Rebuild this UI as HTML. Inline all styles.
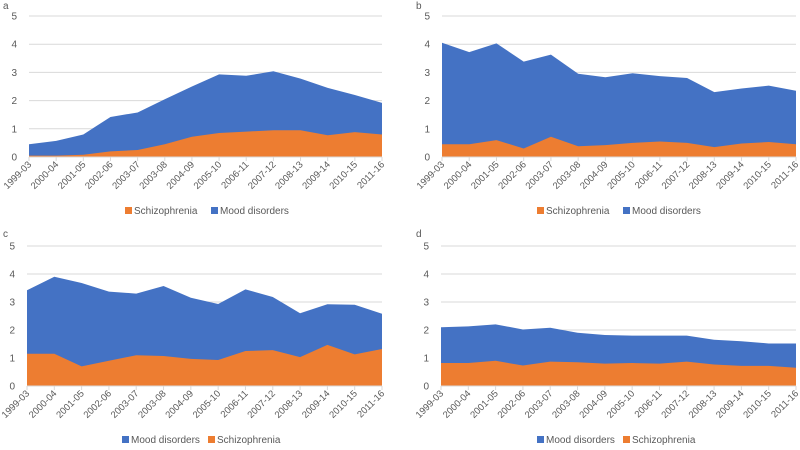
<!DOCTYPE html>
<html><head><meta charset="utf-8"><style>
body{margin:0;background:#fff;width:800px;height:450px;overflow:hidden}
svg{display:block;font-family:"Liberation Sans",sans-serif}
</style></head><body>
<svg id="chart" width="800" height="450"></svg>
<script>
const categories=["1999-03","2000-04","2001-05","2002-06","2003-07","2003-08","2004-09","2005-10","2006-11","2007-12","2008-13","2009-14","2010-15","2011-16"];
const yTicks=[0,1,2,3,4,5];
const schizA=[.05,.05,.08,.2,.25,.45,.72,.85,.9,.95,.95,.77,.88,.8];
const moodA=[.40,.52,.72,1.22,1.33,1.6,1.78,2.08,1.98,2.09,1.83,1.68,1.32,1.12];
const schizB=[.45,.45,.6,.3,.72,.38,.42,.5,.55,.5,.35,.48,.53,.45];
const moodB=[3.6,3.27,3.43,3.08,2.91,2.57,2.41,2.47,2.32,2.3,1.95,1.95,2.0,1.9];
const schizC=[1.15,1.15,.7,.9,1.1,1.07,.97,.93,1.25,1.28,1.03,1.47,1.13,1.32];
const moodC=[2.27,2.75,2.98,2.47,2.2,2.5,2.18,2.0,2.2,1.9,1.57,1.45,1.77,1.26];
const schizD=[.82,.82,.9,.73,.87,.85,.8,.82,.8,.87,.77,.72,.72,.65];
const moodD=[1.28,1.31,1.3,1.29,1.21,1.05,1.02,.98,1.0,.93,.88,.88,.8,.87];
const panels=[
 {label:"a",lx:3,ly:9,x0:29,x1:382,yTop:16,yBot:157,legY:214,s:schizA,m:moodA,legOrder:["s","m"],legX:125},
 {label:"b",lx:416,ly:9,x0:442,x1:796,yTop:16,yBot:157,legY:214,s:schizB,m:moodB,legOrder:["s","m"],legX:537},
 {label:"c",lx:3,ly:237,x0:27,x1:382,yTop:246,yBot:386,legY:443,s:schizC,m:moodC,legOrder:["m","s"],legX:122},
 {label:"d",lx:416,ly:237,x0:441,x1:796,yTop:246,yBot:386,legY:443,s:schizD,m:moodD,legOrder:["m","s"],legX:537}
];
const NS="http://www.w3.org/2000/svg";
const svg=document.getElementById('chart');
const BLUE="#4472C4",ORANGE="#ED7D31",TXT="#595959";
function mk(tag,attrs,parent){const e=document.createElementNS(NS,tag);for(const k in attrs)e.setAttribute(k,attrs[k]);parent.appendChild(e);return e;}
panels.forEach(p=>{
 const g=mk('g',{},svg);
 
 
 const xs=i=>p.x0+(p.x1-p.x0)*i/(categories.length-1);
 const ys=v=>p.yBot-(p.yBot-p.yTop)*v/5;
 const t=mk('text',{x:p.lx,y:p.ly,'font-size':10,fill:TXT},g);
 t.textContent=p.label;
 
 
 yTicks.forEach(v=>{
  if(v>0){const l=mk('line',{x1:p.x0,x2:p.x1,y1:ys(v),y2:ys(v),stroke:"#d9d9d9","stroke-width":1},g);
  
  }
  const tx=mk('text',{x:p.x0-12,y:ys(v)+3.5,'font-size':10,fill:TXT,'text-anchor':'end'},g);
  tx.textContent=v;
  
  
 });
 const tot=p.s.map((v,i)=>v+p.m[i]);
 let dM="M"+xs(0)+","+ys(0);
 tot.forEach((v,i)=>dM+=" L"+xs(i)+","+ys(v));
 dM+=" L"+xs(categories.length-1)+","+ys(0)+" Z";
 const am=mk('path',{d:dM,fill:BLUE},g);
 
 
 let dS="M"+xs(0)+","+ys(0);
 p.s.forEach((v,i)=>dS+=" L"+xs(i)+","+ys(v));
 dS+=" L"+xs(categories.length-1)+","+ys(0)+" Z";
 const as=mk('path',{d:dS,fill:ORANGE},g);
 
 
 const ax=mk('line',{x1:p.x0,x2:p.x1,y1:p.yBot,y2:p.yBot,stroke:"#d9d9d9"},g);
 
 
 categories.forEach((c,i)=>{
  const tk=mk('line',{x1:xs(i),x2:xs(i),y1:p.yBot,y2:p.yBot+4,stroke:"#d9d9d9"},g);
  
  
  const tx=mk('text',{x:xs(i)+3,y:p.yBot+8,'font-size':9.5,fill:TXT,'text-anchor':'end',transform:`rotate(-45 ${xs(i)+3} ${p.yBot+8})`},g);
  tx.textContent=c;
  
  
 });
 let lx=p.legX;
 p.legOrder.forEach(k=>{
  const name=k==='s'?'Schizophrenia':'Mood disorders';
  const col=k==='s'?ORANGE:BLUE;
  const r=mk('rect',{x:lx,y:p.legY-7,width:7,height:7,fill:col},g);
  
  
  const tx=mk('text',{x:lx+9,y:p.legY,'font-size':10,fill:TXT},g);
  tx.textContent=name;
  
  
  lx+=86;
 });
});
</script>
</body></html>
